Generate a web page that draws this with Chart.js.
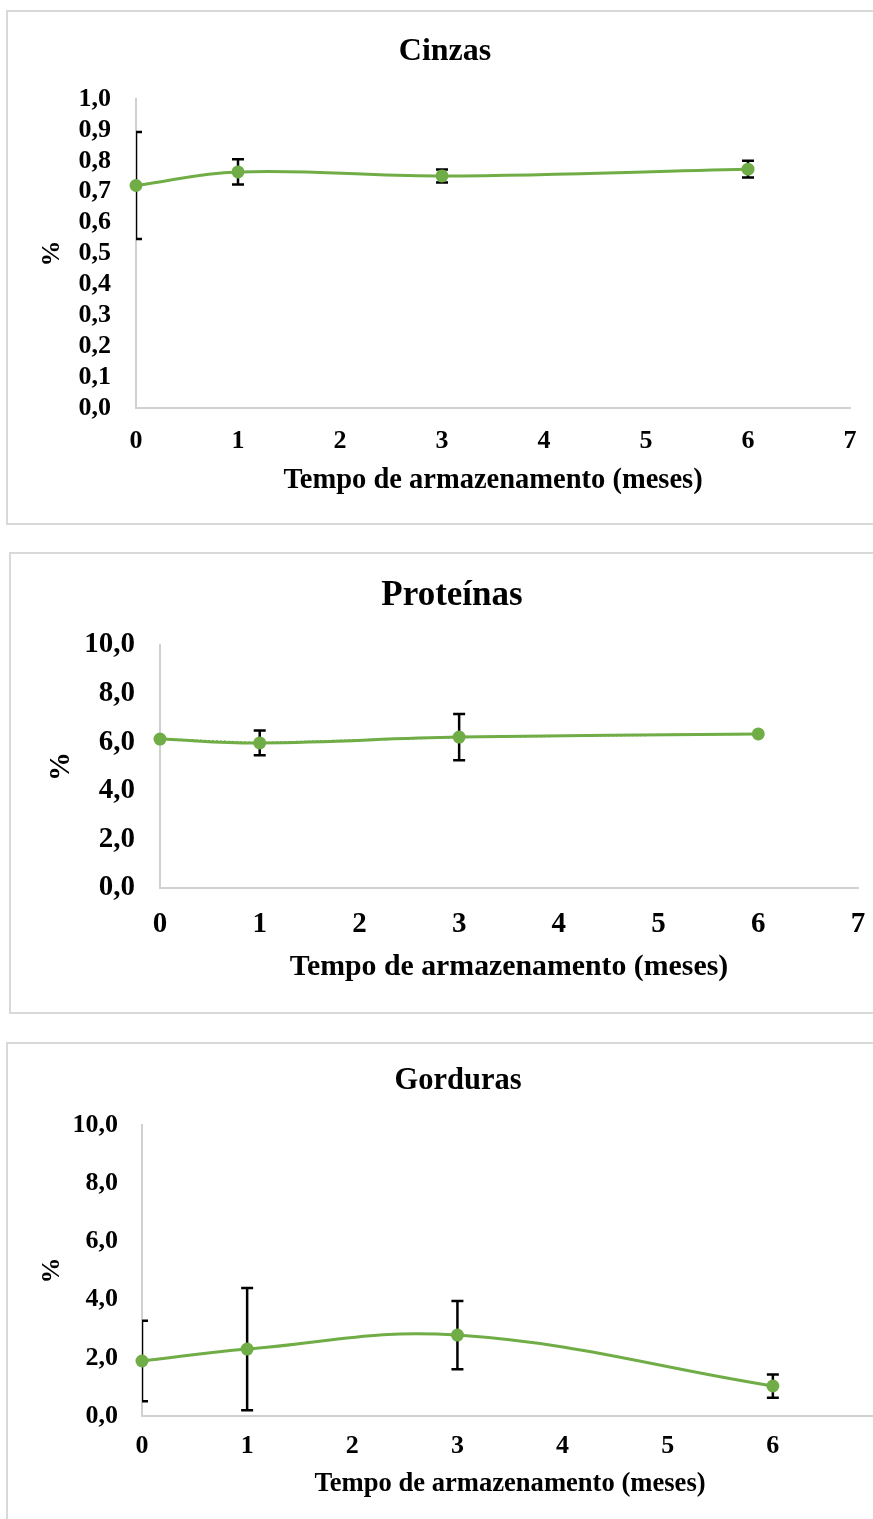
<!DOCTYPE html>
<html><head><meta charset="utf-8">
<script src="https://cdn.jsdelivr.net/npm/chart.js@4/dist/chart.umd.min.js"></script>
<style>
html,body{margin:0;padding:0;background:#fff;overflow:hidden;width:873px;height:1519px;position:relative;}
.box{position:absolute;border:2px solid #d9d9d9;background:#fff;overflow:hidden;}
canvas{display:block;}
</style></head><body>
<div class="box" style="left:6px;top:10px;width:880px;height:511px;"><canvas id="c1"></canvas></div>
<div class="box" style="left:9px;top:552px;width:880px;height:458px;"><canvas id="c2"></canvas></div>
<div class="box" style="left:6px;top:1042px;width:900px;height:480px;"><canvas id="c3"></canvas></div>
<script>
// ---- data ----
const months = [0, 1, 3, 6];
const xTicks = [0, 1, 2, 3, 4, 5, 6, 7];
const xTicks3 = [0, 1, 2, 3, 4, 5, 6];
const cinzas = [0.72, 0.764, 0.751, 0.773];
const cinzasErr = [0.173, 0.041, 0.021, 0.027];
const proteinas = [6.13, 5.97, 6.21, 6.34];
const proteinasErr = [0, 0.51, 0.95, 0];
const gorduras = [1.89, 2.30, 2.78, 1.03];
const gordurasErr = [1.38, 2.10, 1.17, 0.40];
const yTicks1 = [0, 0.1, 0.2, 0.3, 0.4, 0.5, 0.6, 0.7, 0.8, 0.9, 1.0];
const yTicks2 = [0, 2, 4, 6, 8, 10];
const yTicks3 = [0, 2, 4, 6, 8, 10];
const xTitle = 'Tempo de armazenamento (meses)';
const yTitle = '%';

const FONT = "'Liberation Serif','Times New Roman',serif";
const GREEN = '#70ad47';

const errorBarPlugin = {
  id: 'errorBars',
  beforeDatasetsDraw(chart, args, opts) {
    const errs = opts.errors;
    if (!errs) return;
    const ds = chart.data.datasets[0];
    const xs = chart.scales.x, ys = chart.scales.y;
    const a = chart.chartArea;
    const ctx = chart.ctx;
    ctx.save();
    ctx.beginPath();
    ctx.rect(a.left, 0, chart.width, chart.height);
    ctx.clip();
    ctx.strokeStyle = '#000';
    ctx.lineWidth = 2.5;
    const cap = 6;
    ds.data.forEach((p, i) => {
      const e = errs[i];
      if (!e) return;
      const x = xs.getPixelForValue(p.x);
      const y1 = ys.getPixelForValue(p.y + e);
      const y2 = ys.getPixelForValue(p.y - e);
      ctx.beginPath();
      ctx.moveTo(x, y1); ctx.lineTo(x, y2);
      ctx.moveTo(x - cap, y1); ctx.lineTo(x + cap, y1);
      ctx.moveTo(x - cap, y2); ctx.lineTo(x + cap, y2);
      ctx.stroke();
    });
    ctx.restore();
  }
};

function fmt(v, d) { return Number(v).toFixed(d).replace('.', ','); }

function makeChart(id, p) {
  const cv = document.getElementById(id);
  cv.width = p.w; cv.height = p.h;
  cv.style.width = p.w + 'px'; cv.style.height = p.h + 'px';
  const tLH = p.titleSize * 1.2, tickLH = p.tickSize * 1.2, axLH = p.axisSize * 1.2;
  const pts = months.map((m, i) => ({x: m, y: p.values[i]}));
  const datasets = [{
    data: pts,
    borderColor: GREEN, backgroundColor: GREEN,
    borderWidth: 3, tension: 0.4,
    pointRadius: 6.5, pointHoverRadius: 6.5,
    pointBackgroundColor: GREEN, pointBorderWidth: 0,
    showLine: true, clip: 12
  }];
  if (p.dotted) {
    datasets.push({
      data: pts, borderColor: GREEN, borderWidth: 2, borderDash: [2, 2],
      tension: 0, pointRadius: 0, showLine: true, clip: 12
    });
  }
  new Chart(cv, {
    type: 'scatter',
    data: { datasets },
    plugins: [errorBarPlugin],
    options: {
      responsive: false, animation: false, devicePixelRatio: 1,
      layout: { padding: { left: p.padLeft, right: p.padRight, top: 0, bottom: 0 } },
      plugins: {
        legend: { display: false }, tooltip: { enabled: false },
        title: {
          display: true, text: p.title, color: '#000',
          font: { family: FONT, size: p.titleSize, weight: 'bold' },
          padding: { top: p.titleCenter - tLH / 2, bottom: p.plotTop - p.titleCenter - tLH / 2 }
        },
        errorBars: { errors: p.errors }
      },
      scales: {
        x: {
          type: 'linear', min: 0, max: 7,
          afterBuildTicks: s => { s.ticks = p.xTicks.map(v => ({value: v})); },
          afterFit: s => { s.height = p.h - p.plotBottom; },
          grid: { display: false, drawTicks: false },
          border: { display: true, color: '#d0d0d0', width: 2 },
          ticks: {
            color: '#000', padding: p.xTickCenter - p.plotBottom - tickLH / 2,
            autoSkip: false, maxRotation: 0,
            font: { family: FONT, size: p.tickSize, weight: 'bold' },
            callback: v => String(v)
          },
          title: {
            display: true, text: xTitle, color: '#000',
            font: { family: FONT, size: p.axisSize, weight: 'bold' },
            padding: { top: 0, bottom: p.h - p.xTitleCenter - axLH / 2 }
          }
        },
        y: {
          type: 'linear', min: 0, max: p.ymax,
          afterBuildTicks: s => { s.ticks = p.yTicks.map(v => ({value: v})); },
          afterFit: s => { s.width = p.plotLeft - p.padLeft; },
          grid: { display: false, drawTicks: false },
          border: { display: true, color: '#d0d0d0', width: 2 },
          ticks: {
            color: '#000', padding: p.plotLeft - p.yTickRight,
            autoSkip: false,
            font: { family: FONT, size: p.tickSize, weight: 'bold' },
            callback: v => fmt(v, 1)
          },
          title: {
            display: true, text: yTitle, color: '#000',
            font: { family: FONT, size: p.tickSize, weight: 'bold' },
            padding: { top: p.yTitleX - p.padLeft - tickLH / 2, bottom: 0 }
          }
        }
      }
    }
  });
}

makeChart('c1', {
  w: 866, h: 511, title: 'Cinzas', titleSize: 32, tickSize: 26, axisSize: 28.5,
  titleCenter: 40, plotTop: 87, plotBottom: 396, plotLeft: 128, padLeft: 32, padRight: 24,
  yTickRight: 103, yTitleX: 44, xTickCenter: 429, xTitleCenter: 469,
  ymax: 1.0, yTicks: yTicks1, xTicks: xTicks, values: cinzas, errors: cinzasErr
});
makeChart('c2', {
  w: 874, h: 458, title: 'Proteínas', titleSize: 35, tickSize: 29, axisSize: 29.8,
  titleCenter: 42, plotTop: 91, plotBottom: 334, plotLeft: 149, padLeft: 35, padRight: 27,
  yTickRight: 124, yTitleX: 51, xTickCenter: 371, xTitleCenter: 413,
  ymax: 10, yTicks: yTicks2, xTicks: xTicks, values: proteinas, errors: proteinasErr, dotted: true
});
makeChart('c3', {
  w: 890, h: 475, title: 'Gorduras', titleSize: 30.5, tickSize: 26, axisSize: 26.6,
  titleCenter: 37, plotTop: 81, plotBottom: 372, plotLeft: 134, padLeft: 30, padRight: 20,
  yTickRight: 110, yTitleX: 44, xTickCenter: 402, xTitleCenter: 440,
  ymax: 10, yTicks: yTicks3, xTicks: xTicks3, values: gorduras, errors: gordurasErr
});
</script>
</body></html>
